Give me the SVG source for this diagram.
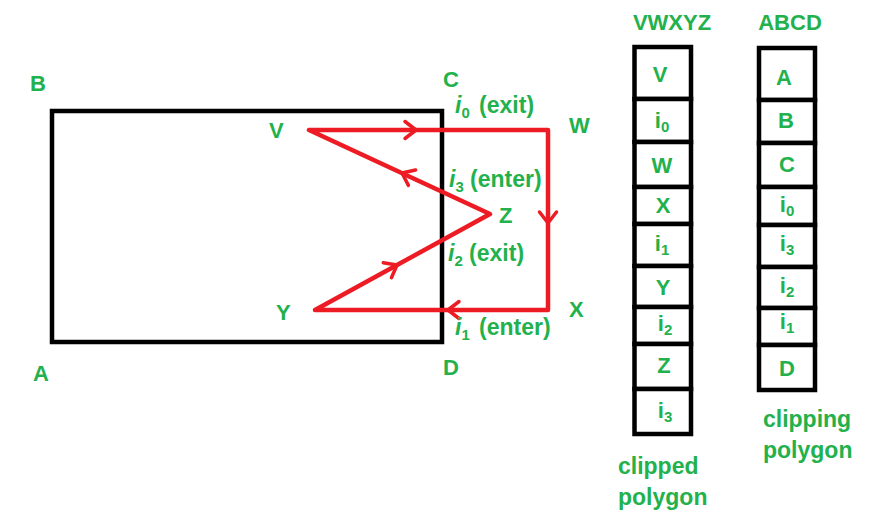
<svg xmlns="http://www.w3.org/2000/svg" xmlns:xlink="http://www.w3.org/1999/xlink" width="882" height="525" viewBox="0 0 882 525">
<defs>
<style>
.lbl{font-family:"Liberation Sans",Arial,sans-serif;font-weight:bold;font-size:22px;fill:#22b14c;}
.il{font-family:"Liberation Sans",Arial,sans-serif;font-weight:bold;font-size:23px;fill:#22b14c;}
.it{font-style:italic;}
.sub{font-size:15px;font-style:normal;}
.cell{fill:#fff;stroke:#000;stroke-width:4.5;}
.mid{text-anchor:middle;}
.red{fill:none;stroke:#ed1c24;stroke-width:4.5;stroke-linejoin:round;stroke-linecap:round;}
</style>
<path id="chev" d="M-11,-8.5 L0,0 L-11,8.5" fill="none" stroke="#ed1c24" stroke-width="3.5" stroke-linecap="round" stroke-linejoin="round"/>
</defs>
<rect width="882" height="525" fill="#fff"/>

<g id="clip-window">
<rect x="52" y="111" width="390" height="231" fill="none" stroke="#000" stroke-width="4.5"/>
<text class="lbl" x="30" y="91">B</text>
<text class="lbl" x="33" y="381">A</text>
<text class="lbl" x="443" y="87">C</text>
<text class="lbl" x="443" y="375">D</text>
</g>

<g id="connectors">
<path class="red" d="M309,130 L548,130 L548,310 L315,310 L490,214 Z"/>
<use xlink:href="#chev" transform="translate(416,130)"/>
<use xlink:href="#chev" transform="translate(548,223) rotate(90)"/>
<use xlink:href="#chev" transform="translate(448,310) rotate(180)"/>
<use xlink:href="#chev" transform="translate(397,265) rotate(-28.7)"/>
<use xlink:href="#chev" transform="translate(402,173) rotate(204.9)"/>
</g>

<g id="vertices">
<text class="lbl" x="269" y="138">V</text>
<text class="lbl" x="569" y="133">W</text>
<text class="lbl" x="569" y="317">X</text>
<text class="lbl" x="276" y="320">Y</text>
<text class="lbl" x="499" y="223">Z</text>
</g>

<g id="intersections">
<text class="il" x="455" y="113"><tspan class="it">i</tspan><tspan class="sub" dy="5">0</tspan><tspan dy="-5" dx="3"> (exit)</tspan></text>
<text class="il" x="449" y="187"><tspan class="it">i</tspan><tspan class="sub" dy="5">3</tspan><tspan dy="-5"> (enter)</tspan></text>
<text class="il" x="448" y="261"><tspan class="it">i</tspan><tspan class="sub" dy="5">2</tspan><tspan dy="-5"> (exit)</tspan></text>
<text class="il" x="455" y="335"><tspan class="it">i</tspan><tspan class="sub" dy="5">1</tspan><tspan dy="-5" dx="3"> (enter)</tspan></text>
</g>

<g id="clipped-list">
<text class="lbl mid" x="672" y="30">VWXYZ</text>
<g id="c-V"><rect class="cell" x="634.5" y="47" width="56.5" height="52"/><text class="lbl mid" x="660" y="82">V</text></g>
<g id="c-i0"><rect class="cell" x="634.5" y="99" width="56.5" height="43"/><text class="lbl mid" x="662" y="128">i<tspan class="sub" dy="4">0</tspan></text></g>
<g id="c-W"><rect class="cell" x="634.5" y="142" width="56.5" height="45"/><text class="lbl mid" x="662" y="173">W</text></g>
<g id="c-X"><rect class="cell" x="634.5" y="187" width="56.5" height="37"/><text class="lbl mid" x="663" y="213">X</text></g>
<g id="c-i1"><rect class="cell" x="634.5" y="224" width="56.5" height="42"/><text class="lbl mid" x="662" y="251">i<tspan class="sub" dy="4">1</tspan></text></g>
<g id="c-Y"><rect class="cell" x="634.5" y="266" width="56.5" height="41"/><text class="lbl mid" x="663" y="295">Y</text></g>
<g id="c-i2"><rect class="cell" x="634.5" y="307" width="56.5" height="37"/><text class="lbl mid" x="665" y="331">i<tspan class="sub" dy="4">2</tspan></text></g>
<g id="c-Z"><rect class="cell" x="634.5" y="344" width="56.5" height="45"/><text class="lbl mid" x="664" y="373">Z</text></g>
<g id="c-i3"><rect class="cell" x="634.5" y="389" width="56.5" height="45"/><text class="lbl mid" x="665" y="418">i<tspan class="sub" dy="4">3</tspan></text></g>
<text class="lbl" x="618" y="474" style="font-size:23px">clipped</text>
<text class="lbl" x="618" y="505" style="font-size:23px">polygon</text>
</g>

<g id="clipping-list">
<text class="lbl mid" x="790" y="30">ABCD</text>
<g id="k-A"><rect class="cell" x="759" y="48" width="56" height="52"/><text class="lbl mid" x="784" y="85">A</text></g>
<g id="k-B"><rect class="cell" x="759" y="100" width="56" height="43"/><text class="lbl mid" x="786" y="128">B</text></g>
<g id="k-C"><rect class="cell" x="759" y="143" width="56" height="44"/><text class="lbl mid" x="787" y="172">C</text></g>
<g id="k-i0"><rect class="cell" x="759" y="187" width="56" height="38"/><text class="lbl mid" x="787" y="212">i<tspan class="sub" dy="4">0</tspan></text></g>
<g id="k-i3"><rect class="cell" x="759" y="225" width="56" height="42"/><text class="lbl mid" x="787" y="251">i<tspan class="sub" dy="4">3</tspan></text></g>
<g id="k-i2"><rect class="cell" x="759" y="267" width="56" height="41"/><text class="lbl mid" x="787" y="293">i<tspan class="sub" dy="4">2</tspan></text></g>
<g id="k-i1"><rect class="cell" x="759" y="308" width="56" height="37"/><text class="lbl mid" x="787" y="329">i<tspan class="sub" dy="4">1</tspan></text></g>
<g id="k-D"><rect class="cell" x="759" y="345" width="56" height="45"/><text class="lbl mid" x="787" y="376">D</text></g>
<text class="lbl" x="763" y="427" style="font-size:23px">clipping</text>
<text class="lbl" x="763" y="458" style="font-size:23px">polygon</text>
</g>
</svg>
